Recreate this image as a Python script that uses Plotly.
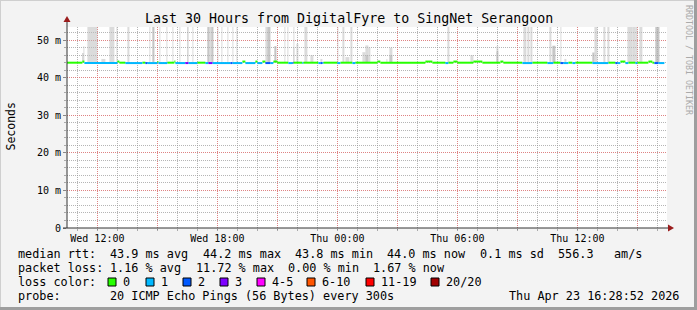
import plotly.graph_objects as go
import pandas as pd

# ---------------- data ----------------
TITLE = "Last 30 Hours from DigitalFyre to SingNet Serangoon"
X_START = "2026-04-22 10:28:52"
X_END = "2026-04-23 16:28:52"
Y_MAX = 53.5

tick_times = ["2026-04-22 12:00", "2026-04-22 15:00", "2026-04-22 18:00", "2026-04-22 21:00",
              "2026-04-23 00:00", "2026-04-23 03:00", "2026-04-23 06:00", "2026-04-23 09:00",
              "2026-04-23 12:00", "2026-04-23 15:00"]
tick_labels = ["Wed 12:00", "", "Wed 18:00", "", "Thu 00:00", "", "Thu 06:00", "", "Thu 12:00", ""]
y_ticks = [0, 10, 20, 30, 40, 50]
y_labels = ["0", "10 m", "20 m", "30 m", "40 m", "50 m"]

# median rtt segments: start time ("DD HH:MM", April 2026), loss count, median (ms)
seg_start = ["22 10:29", "22 11:15", "22 11:21", "22 13:00", "22 13:06", "22 13:24", "22 14:15", "22 14:24",
             "22 14:30", "22 15:00", "22 15:03", "22 15:30", "22 15:51", "22 15:54", "22 16:24", "22 16:33",
             "22 17:00", "22 17:24", "22 17:33", "22 17:45", "22 18:39", "22 18:45", "22 19:15", "22 19:24",
             "22 19:54", "22 20:00", "22 20:15", "22 20:24", "22 20:39", "22 20:48", "22 21:00", "22 21:33",
             "22 21:45", "22 21:48", "22 22:15", "22 22:18", "22 23:03", "22 23:09", "22 23:15", "22 23:18",
             "23 00:00", "23 00:09", "23 00:45", "23 00:54", "23 02:00", "23 02:09", "23 04:24", "23 04:45",
             "23 05:24", "23 05:33", "23 05:48", "23 06:00", "23 06:48", "23 07:15", "23 08:09", "23 08:18",
             "23 09:15", "23 09:45", "23 10:30", "23 10:48", "23 11:09", "23 11:18", "23 11:33", "23 11:45",
             "23 11:54", "23 12:45", "23 13:33", "23 13:54", "23 14:00", "23 14:09", "23 14:24", "23 14:33",
             "23 14:54", "23 15:00", "23 15:33", "23 15:45", "23 15:51", "23 16:03"]
seg_loss = [0, 0, 1, 0, 0, 1, 0, 2,
            1, 0, 1, 0, 0, 1, 3, 1,
            0, 1, 3, 1, 2, 1, 0, 1,
            0, 1, 0, 2, 1, 0, 0, 1,
            2, 0, 1, 0, 1, 2, 1, 0,
            1, 0, 1, 0, 0, 0, 0, 0,
            1, 0, 0, 0, 0, 0, 0, 0,
            1, 0, 1, 0, 2, 1, 0, 1,
            0, 1, 0, 2, 1, 0, 1, 0,
            1, 0, 0, 0, 2, 1]
seg_rtt = [44.0, 44.3, 43.9, 44.3, 44.0, 43.9, 44.0, 43.9,
           43.9, 44.2, 43.9, 44.0, 44.3, 43.9, 43.9, 43.9,
           44.0, 43.9, 43.9, 43.9, 43.9, 43.9, 44.3, 43.9,
           44.3, 43.9, 44.3, 43.9, 43.9, 44.3, 44.0, 43.9,
           43.9, 44.0, 43.9, 44.0, 43.9, 43.9, 43.9, 44.0,
           43.9, 44.0, 43.9, 44.0, 44.3, 44.0, 44.3, 44.0,
           43.9, 44.0, 44.3, 44.0, 44.3, 44.0, 44.3, 44.0,
           43.9, 44.0, 43.9, 44.0, 43.9, 43.9, 44.0, 43.9,
           44.0, 43.9, 44.0, 43.9, 43.9, 44.3, 43.9, 44.0,
           43.9, 44.0, 44.3, 44.0, 43.9, 43.9]
seg_last_end = "23 16:21"

# smoke (spread of the 20 pings): start, end, outer top (ms), inner/denser top (ms, 0 = none)
smoke_start = ["22 11:15", "22 11:18", "22 11:30", "22 12:12", "22 12:36", "22 12:57", "22 13:30", "22 14:36",
               "22 14:45", "22 15:06", "22 15:27", "22 15:45", "22 16:06", "22 16:30", "22 16:45", "22 17:30",
               "22 17:36", "22 17:42", "22 18:00", "22 18:12", "22 18:30", "22 18:45", "22 18:57", "22 20:24",
               "22 20:30", "22 20:51", "22 21:21", "22 21:30", "22 21:48", "22 21:57", "22 22:21", "22 22:39",
               "22 23:09", "23 00:00", "23 00:15", "23 00:24", "23 00:39", "23 01:15", "23 01:24", "23 01:33",
               "23 02:27", "23 02:36", "23 05:30", "23 06:39", "23 07:57", "23 09:18", "23 09:30", "23 09:39",
               "23 10:36", "23 10:45", "23 11:09", "23 11:21", "23 12:45", "23 12:51", "23 13:18", "23 13:30",
               "23 14:30", "23 14:45", "23 14:54", "23 15:06", "23 15:54"]
smoke_end = ["22 11:18", "22 11:21", "22 12:00", "22 12:24", "22 12:51", "22 13:00", "22 13:36", "22 14:39",
             "22 14:51", "22 15:09", "22 15:30", "22 15:48", "22 16:09", "22 16:33", "22 16:48", "22 17:36",
             "22 17:42", "22 17:48", "22 18:03", "22 18:15", "22 18:33", "22 18:48", "22 19:00", "22 20:30",
             "22 20:39", "22 20:57", "22 21:24", "22 21:33", "22 21:51", "22 22:03", "22 22:30", "22 22:48",
             "22 23:15", "23 00:03", "23 00:21", "23 00:36", "23 00:45", "23 01:24", "23 01:33", "23 01:39",
             "23 02:30", "23 02:45", "23 05:36", "23 06:48", "23 08:03", "23 09:27", "23 09:36", "23 09:45",
             "23 10:42", "23 10:54", "23 11:12", "23 11:27", "23 12:51", "23 13:00", "23 13:24", "23 13:36",
             "23 14:45", "23 14:54", "23 15:00", "23 15:15", "23 16:06"]
smoke_top = [46.6, 48.4, 60, 45.0, 60, 60, 60, 60,
             60, 60, 60, 60, 60, 60, 60, 60,
             60, 60, 60, 60, 60, 60, 60, 60,
             60, 48.4, 60, 60, 60, 49.0, 60, 46.0,
             45.0, 60, 60, 45.5, 60, 46.8, 48.6, 48.0,
             45.0, 48.0, 60, 46.0, 48.4, 60, 60, 60,
             60, 48.5, 60, 45.0, 46.7, 60, 60, 60,
             60, 60, 60, 60, 60]
smoke_core = [46.6, 0, 0, 0, 0, 0, 0, 0,
              60, 0, 0, 0, 0, 60, 0, 60,
              0, 60, 0, 0, 0, 0, 0, 0,
              60, 48.4, 0, 0, 48.0, 0, 0, 0,
              0, 0, 0, 0, 0, 0, 46.0, 0,
              0, 46.0, 0, 0, 47.0, 0, 0, 0,
              0, 48.5, 0, 0, 46.7, 0, 0, 0,
              0, 0, 0, 0, 60]

# legend texts
rtt_items = ["median rtt:", "43.9 ms avg", "44.2 ms max", "43.8 ms min", "44.0 ms now", "0.1 ms sd", "556.3", "am/s"]
loss_items = ["packet loss:", "1.16 % avg", "11.72 % max", "0.00 % min", "1.67 % now"]
loss_color_names = ["0", "1", "2", "3", "4-5", "6-10", "11-19", "20/20"]
loss_colors = ["#26ff00", "#00b8ff", "#0059ff", "#7e00ff", "#ff00ff", "#ff5500", "#ff0000", "#a00000"]
probe_items = ["probe:", "20 ICMP Echo Pings (56 Bytes) every 300s"]
stamp = "Thu Apr 23 16:28:52 2026"
credit = "RRDTOOL / TOBI OETIKER"

# ---------------- layout constants ----------------
W, H = 697, 310
L, T, PW, PH = 67, 27, 600, 201
BOT = T + PH
FONT = "DejaVu Sans Mono"
CW = 7.1  # legend character advance (px)


def px(x):
    return (x - L) / PW


def py(y):
    return (BOT - y) / PH


def ts(s):
    return pd.Timestamp(f"2026-04-{s[:2]} {s[3:]}")


fig = go.Figure()

# smoke
base = 44.0
s0 = [ts(s) for s in smoke_start]
s1 = [ts(s) for s in smoke_end]
mid = [a + (b - a) / 2 for a, b in zip(s0, s1)]
wid = [(b - a).total_seconds() * 1000 for a, b in zip(s0, s1)]
fig.add_trace(go.Bar(x=mid, y=[t - base for t in smoke_top], base=base, width=wid,
                     marker=dict(color="rgba(190,190,190,0.55)", line=dict(width=0)), hoverinfo="skip"))
core_idx = [i for i, c in enumerate(smoke_core) if c > 0]
fig.add_trace(go.Bar(x=[mid[i] for i in core_idx], y=[smoke_core[i] - base for i in core_idx], base=base,
                     width=[wid[i] for i in core_idx],
                     marker=dict(color="rgba(160,160,160,0.35)", line=dict(width=0)), hoverinfo="skip"))

# median line coloured by loss
ends = seg_start[1:] + [seg_last_end]
for lvl in sorted(set(seg_loss)):
    xs, ys = [], []
    for s, e, l, r in zip(seg_start, ends, seg_loss, seg_rtt):
        if l == lvl:
            xs += [ts(s), ts(e), None]
            ys += [r, r, None]
    fig.add_trace(go.Scatter(x=xs, y=ys, mode="lines", line=dict(color=loss_colors[lvl], width=2),
                             hoverinfo="skip"))

minor_grid = "rgba(150,150,150,0.7)"
major_grid = "rgba(255,90,90,0.55)"

fig.update_xaxes(type="date", range=[X_START, X_END], tickmode="array", tickvals=tick_times,
                 ticktext=tick_labels, showgrid=True, gridcolor=major_grid, griddash="1px,1px", gridwidth=1,
                 ticks="outside", ticklen=1, tickcolor="#888", showline=False, zeroline=False,
                 tickfont=dict(family=FONT, size=10, color="#000"),
                 minor=dict(tickmode="linear", tick0="2026-04-22 00:00", dtick=3600000, ticks="outside",
                            ticklen=2, tickcolor="#aaa", showgrid=True, gridcolor=minor_grid,
                            griddash="1px,1px", gridwidth=1))
fig.update_yaxes(range=[0, Y_MAX], tickmode="array", tickvals=y_ticks, ticktext=y_labels,
                 showgrid=True, gridcolor=major_grid, griddash="1px,1px", gridwidth=1,
                 ticks="outside", ticklen=3, tickcolor="#888", showline=False, zeroline=False,
                 tickfont=dict(family=FONT, size=10, color="#000"),
                 minor=dict(tickmode="linear", tick0=0, dtick=2, ticks="outside", ticklen=2, tickcolor="#aaa",
                            showgrid=True, gridcolor=minor_grid, griddash="1px,1px", gridwidth=1))

shapes = []
# frame
shapes.append(dict(type="line", xref="paper", yref="paper", x0=px(0), x1=px(W), y0=py(0.5), y1=py(0.5),
                   line=dict(color="#cfcfcf", width=1)))
shapes.append(dict(type="line", xref="paper", yref="paper", x0=px(0.5), x1=px(0.5), y0=py(0), y1=py(H),
                   line=dict(color="#cfcfcf", width=1)))
shapes.append(dict(type="line", xref="paper", yref="paper", x0=px(0), x1=px(W), y0=py(H - 1.5), y1=py(H - 1.5),
                   line=dict(color="#9e9e9e", width=3)))
shapes.append(dict(type="line", xref="paper", yref="paper", x0=px(W - 1.5), x1=px(W - 1.5), y0=py(0), y1=py(H),
                   line=dict(color="#9e9e9e", width=3)))
# axes + arrows
shapes.append(dict(type="line", xref="paper", yref="paper", x0=px(L), x1=px(L), y0=py(BOT), y1=py(21),
                   line=dict(color="#333", width=1)))
shapes.append(dict(type="line", xref="paper", yref="paper", x0=px(63), x1=px(668), y0=py(BOT), y1=py(BOT),
                   line=dict(color="#333", width=1)))
shapes.append(dict(type="path", xref="paper", yref="paper",
                   path=f"M {px(63.5)} {py(22)} L {px(70.5)} {py(22)} L {px(67)} {py(16)} Z",
                   fillcolor="#9a1c1c", line=dict(width=0)))
shapes.append(dict(type="path", xref="paper", yref="paper",
                   path=f"M {px(668)} {py(224.5)} L {px(668)} {py(231.5)} L {px(674)} {py(228)} Z",
                   fillcolor="#9a1c1c", line=dict(width=0)))

ann = []
LF = dict(family=FONT, size=11.8, color="#000")
ann.append(dict(text=TITLE, x=px(348.5), y=py(19), font=dict(family=FONT, size=13.3, color="#000"),
                xanchor="center", yanchor="middle"))
ann.append(dict(text="Seconds", x=px(10.5), y=py(127), textangle=-90, font=dict(family=FONT, size=11.5, color="#000"),
                xanchor="center", yanchor="middle"))
ann.append(dict(text=credit, x=px(689), y=py(60), textangle=90, font=dict(family=FONT, size=8.3, color="#aaa"),
                xanchor="center", yanchor="middle"))

LX = 16
row_y = [254, 268, 282, 296]
rtt_col = [0, 13, 26, 39, 52, 65, 76, 84]
for t, c in zip(rtt_items, rtt_col):
    ann.append(dict(text=t, x=px(LX + c * CW), y=py(row_y[0]), font=LF, xanchor="left", yanchor="middle"))
loss_col = [0, 13, 25, 38, 50]
for t, c in zip(loss_items, loss_col):
    ann.append(dict(text=t, x=px(LX + c * CW), y=py(row_y[1]), font=LF, xanchor="left", yanchor="middle"))
ann.append(dict(text="loss color:", x=px(LX), y=py(row_y[2]), font=LF, xanchor="left", yanchor="middle"))
box_x = [108, 146, 183, 220, 257, 307, 366, 431]
for name, col, bx in zip(loss_color_names, loss_colors, box_x):
    shapes.append(dict(type="rect", xref="paper", yref="paper", x0=px(bx), x1=px(bx + 8),
                       y0=py(row_y[2] + 4), y1=py(row_y[2] - 4), fillcolor=col,
                       line=dict(color="#000", width=1)))
    ann.append(dict(text=name, x=px(bx + 13), y=py(row_y[2]), font=LF, xanchor="left", yanchor="middle"))
ann.append(dict(text=probe_items[0], x=px(LX), y=py(row_y[3]), font=LF, xanchor="left", yanchor="middle"))
ann.append(dict(text=probe_items[1], x=px(LX + 13 * CW), y=py(row_y[3]), font=LF, xanchor="left", yanchor="middle"))
ann.append(dict(text=stamp, x=px(681), y=py(row_y[3]), font=LF, xanchor="right", yanchor="middle"))

for a in ann:
    a.update(xref="paper", yref="paper", showarrow=False)

fig.update_layout(width=W, height=H, margin=dict(l=L, r=W - L - PW, t=T, b=H - BOT, pad=0),
                  paper_bgcolor="#f3f3f3", plot_bgcolor="#ffffff", showlegend=False,
                  barmode="overlay", shapes=shapes, annotations=ann)

fig.write_html("out.html", config={"displayModeBar": False})
